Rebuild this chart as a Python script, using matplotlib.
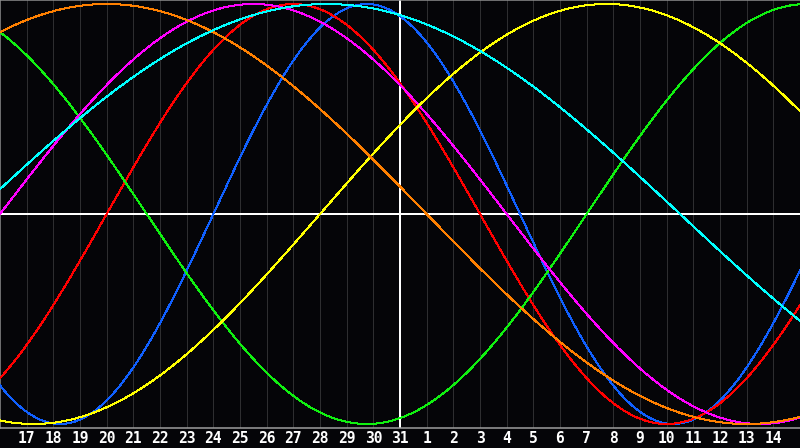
import numpy as np
import matplotlib
matplotlib.use('Agg')
import matplotlib.pyplot as plt

# biorhythm: cycle lengths (days) and their colours
cycles = [23, 28, 33, 38, 43, 48, 53]
colors = ['#1060ff', '#ff0000', '#10f010', '#ff00ff', '#ffff00', '#ff8000', '#00ffff']

# days lived at the left edge of the chart (day 16 of the first month)
days_lived = 18392
n_days = 30

# day-of-month labels for grid lines 1..29
day_labels = [17, 18, 19, 20, 21, 22, 23, 24, 25, 26, 27, 28, 29, 30, 31,
              1, 2, 3, 4, 5, 6, 7, 8, 9, 10, 11, 12, 13, 14]
today = 15

bg = '#050508'
px = 0.72  # one pixel in points at 100 dpi

fig = plt.figure(figsize=(8, 4.48), dpi=100, facecolor=bg)
ax = fig.add_axes([0, 20 / 448, 1, 428 / 448])
ax.set_facecolor(bg)

d = np.linspace(0, n_days, 1201)
t = days_lived + d

# grid
for i in range(1, len(day_labels) + 1):
    if i != today:
        ax.axvline(i, color='#2e2e30', lw=px, antialiased=False, zorder=1)
ax.axhline(0, color='white', lw=px * 1.5, antialiased=False, zorder=2)
ax.axvline(today, color='white', lw=px * 1.5, antialiased=False, zorder=2)

for p, c in zip(cycles, colors):
    ax.plot(d, np.sin(2 * np.pi * t / p), color=c, lw=px, antialiased=False, zorder=3)

ax.set_xlim(0, n_days)
ax.set_ylim(-214 / 210, 214 / 210)

for side in ['top', 'right']:
    ax.spines[side].set_visible(False)
ax.spines['left'].set_color('#909090')
ax.spines['bottom'].set_color('#a0a0a0')
ax.spines['left'].set_linewidth(px * 1.5)
ax.spines['bottom'].set_linewidth(px * 1.5)
ax.axhline(214 / 210, color='#909090', lw=px * 1.5, zorder=4)

ax.set_yticks([])
ax.set_xticks(range(1, len(day_labels) + 1))
ax.set_xticklabels([str(x) for x in day_labels], color='white',
                   fontfamily='DejaVu Sans Mono', fontweight='bold', fontsize=10.5)
ax.tick_params(axis='x', length=0, pad=2)

fig.savefig('out.png', dpi=100, facecolor=bg)
